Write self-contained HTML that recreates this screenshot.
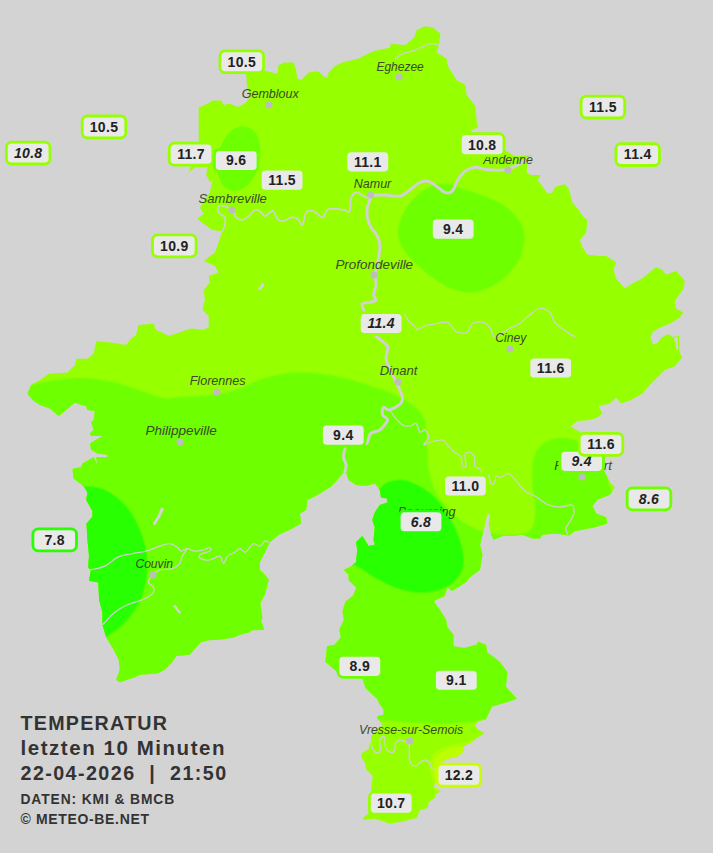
<!DOCTYPE html>
<html><head><meta charset="utf-8"><title>Temperatur</title>
<style>
html,body{margin:0;padding:0;background:#d3d3d3;}
body{width:713px;height:853px;overflow:hidden;position:relative;font-family:"Liberation Sans",sans-serif;}
svg{position:absolute;left:0;top:0;display:block}
.city{font-family:"Liberation Sans",sans-serif;font-style:italic;font-size:13px;fill:#3c4a2a}
.lab{font-family:"Liberation Sans",sans-serif;font-weight:bold;font-size:14px;fill:#222;letter-spacing:0.3px}
.it{font-style:italic}
.cap{position:absolute;left:20.5px;color:#333;font-weight:bold;white-space:nowrap;line-height:1}
.c1{font-size:19px;letter-spacing:1.4px}
.c2{font-size:14px;letter-spacing:0.9px}
</style></head><body>
<svg width="713" height="853" viewBox="0 0 713 853">
<defs><clipPath id="prov"><polygon points="198.7,142.0 198.7,107.4 205.0,104.9 212.5,100.4 221.2,100.4 223.7,104.9 229.9,103.6 237.4,106.9 244.9,103.6 249.9,97.4 246.9,84.9 246.2,73.7 262.4,69.9 277.4,73.7 278.6,64.9 284.8,62.4 293.6,62.4 296.1,69.9 297.3,78.7 301.1,79.9 308.6,72.4 318.5,71.2 323.5,76.2 327.3,77.9 328.5,72.4 334.8,66.2 342.3,62.4 358.0,58.7 373.0,51.2 390.5,47.5 390.5,43.7 405.4,45.0 414.2,37.5 416.7,30.0 425.4,26.2 432.9,27.5 440.4,33.7 439.1,45.0 436.6,52.5 446.6,58.7 447.9,66.2 456.6,79.9 465.3,84.9 466.6,94.9 475.3,106.1 476.6,119.9 477.8,127.4 471.6,129.9 471.0,134.0 500.0,136.0 504.0,150.0 515.7,156.4 532.6,154.7 527.5,160.6 526.7,172.5 530.9,175.0 541.0,175.0 537.6,180.1 547.8,193.6 552.0,192.7 555.4,186.8 564.6,184.3 568.7,188.7 572.4,202.4 578.7,209.9 583.7,217.4 587.4,219.9 586.2,232.4 579.9,239.9 582.4,247.3 587.4,254.8 599.9,256.1 606.1,256.1 616.1,262.3 613.6,269.8 616.1,278.6 624.8,288.6 632.3,283.6 642.3,278.6 656.0,267.3 662.3,269.8 666.0,274.8 676.0,271.1 684.8,281.1 683.5,288.6 674.8,301.0 676.0,308.5 683.4,312.8 679.2,318.1 670.7,323.3 660.2,327.6 652.8,331.8 650.3,337.0 652.8,344.4 657.0,343.4 661.2,338.1 667.6,333.9 672.8,337.0 679.3,335.5 679.5,352.5 682.3,357.4 674.8,366.2 664.8,369.9 657.3,377.4 649.8,384.9 642.3,393.6 631.1,399.9 621.1,403.6 616.1,397.4 609.9,403.6 598.7,406.1 602.1,413.2 597.7,417.6 588.1,420.2 577.5,421.1 570.5,426.4 581.0,432.6 600.0,440.0 602.4,456.1 603.6,469.8 609.9,482.3 614.9,487.3 609.9,494.8 597.4,499.8 592.4,506.0 596.2,513.5 606.1,517.2 607.4,523.5 594.9,527.2 582.4,529.7 574.8,531.1 568.6,536.1 564.9,534.8 554.9,533.6 542.4,534.8 539.9,538.6 532.4,538.6 522.4,534.8 511.2,536.1 502.5,536.1 493.7,539.8 491.2,534.8 488.7,524.8 490.0,514.9 487.5,513.6 485.0,524.8 480.0,544.8 482.5,554.8 480.0,569.8 470.0,577.3 466.0,582.3 452.3,591.1 447.3,587.3 444.8,596.1 433.6,601.1 439.8,609.8 446.1,619.8 447.3,627.3 453.6,634.8 453.5,646.3 464.3,647.9 476.6,644.8 478.2,641.7 485.9,644.8 487.4,652.5 499.8,661.8 507.5,672.6 505.9,686.5 516.7,698.8 507.5,701.9 492.0,706.5 489.0,712.7 485.7,719.6 477.8,721.6 474.9,725.5 477.8,729.5 484.7,733.4 477.8,737.3 471.9,742.2 462.1,747.1 464.1,751.0 458.2,756.0 446.4,758.9 440.5,762.8 438.0,775.0 433.6,786.4 440.5,791.3 435.6,794.2 434.6,798.2 428.7,802.1 427.7,808.0 419.9,810.0 416.9,817.8 409.1,819.8 402.2,821.7 395.3,822.7 389.5,823.7 381.6,820.8 374.7,818.8 363.9,819.8 362.9,817.8 367.9,813.9 369.8,808.0 368.8,804.1 370.8,794.2 371.8,782.5 372.8,776.6 365.9,768.7 364.9,762.8 361.0,756.9 362.0,753.0 368.8,749.1 369.8,743.2 371.8,739.3 370.8,736.3 373.7,733.4 382.6,724.5 376.7,717.7 378.7,715.7 383.6,714.7 383.6,709.8 379.6,703.9 377.0,698.8 365.5,688.0 362.5,678.7 350.1,675.6 337.8,672.6 325.4,661.8 327.0,646.3 334.7,644.8 340.9,637.1 339.3,629.4 343.9,620.1 342.4,610.9 345.5,601.6 353.2,595.4 356.3,587.7 348.6,580.0 348.6,574.8 343.6,569.8 349.8,567.3 356.0,562.3 357.3,549.8 356.0,542.3 362.3,536.1 364.8,539.8 368.5,546.1 374.8,544.8 373.5,539.8 374.8,527.3 372.3,519.9 374.8,512.4 379.8,504.9 387.3,502.4 387.3,498.6 381.0,497.4 379.8,489.9 374.8,483.6 366.0,486.1 356.0,484.9 348.6,479.9 346.1,472.4 343.6,472.4 337.3,479.9 329.8,487.4 317.4,494.9 307.4,499.9 306.1,509.9 299.9,513.6 301.1,523.6 289.9,529.8 278.7,534.8 269.9,542.3 264.9,552.3 259.9,562.3 259.9,569.8 264.9,574.8 268.7,579.8 265.2,594.0 260.3,603.1 262.4,617.9 261.0,620.7 264.5,629.8 251.9,630.2 249.1,632.6 240.7,634.4 233.7,637.5 221.0,639.6 208.4,640.3 201.0,642.3 196.1,647.3 189.8,654.8 176.1,656.0 172.3,662.3 164.8,669.8 157.4,673.5 139.9,674.7 134.9,677.2 119.9,682.2 116.2,679.7 119.9,669.8 118.7,659.8 113.7,649.8 106.2,637.3 102.4,624.8 102.4,612.3 99.1,600.0 98.3,582.5 89.0,580.8 90.7,570.7 88.2,567.3 89.0,555.6 87.3,538.7 86.5,523.6 92.4,516.8 92.4,511.0 86.2,500.0 87.5,492.5 83.7,486.2 73.7,478.7 72.5,470.0 73.7,468.5 81.1,467.3 82.4,463.5 93.6,457.3 97.4,464.8 96.1,457.3 107.4,457.3 107.4,454.8 97.4,453.6 91.1,449.8 89.9,443.6 96.1,439.8 102.4,436.1 91.1,436.1 89.9,433.6 93.6,429.8 91.1,422.3 93.6,419.9 94.9,411.1 87.4,409.9 86.1,406.1 81.1,404.9 74.9,402.4 66.2,409.9 58.7,416.1 49.9,408.6 40.0,404.9 32.5,399.9 27.5,393.6 31.2,384.9 40.0,379.9 48.7,373.7 67.4,372.4 74.9,364.9 76.2,358.7 87.4,358.7 93.6,353.7 96.1,341.2 111.1,342.4 126.1,344.9 131.1,338.7 136.1,335.0 138.6,325.0 153.5,323.7 156.0,330.0 162.3,332.5 168.7,336.0 191.2,328.5 203.7,329.8 208.7,327.3 208.7,316.1 202.4,309.8 204.9,299.8 203.7,289.9 209.9,282.4 208.7,276.1 218.6,272.4 214.9,266.1 203.7,261.1 214.9,252.4 218.6,242.4 222.4,231.2 212.4,229.9 203.7,223.7 197.4,218.7 203.7,213.7 199.9,207.5 209.9,192.5 212.4,180.0 210.0,182.3 206.2,174.8 207.5,167.3 195.0,167.3 188.7,172.3 192.0,164.0"/></clipPath></defs>
<g clip-path="url(#prov)">
<rect width="713" height="853" fill="#96ff00"/>
<path d="M0.0,390.0C5.2,334.3 23.3,386.4 31.2,384.9C39.1,383.4 40.5,382.2 47.4,381.1C54.3,380.0 64.9,378.6 72.4,378.2C79.9,377.8 85.3,378.0 92.4,378.7C99.5,379.4 107.7,380.8 114.8,382.4C121.9,384.0 128.6,386.5 134.8,388.6C141.1,390.7 146.9,393.2 152.3,394.9C157.7,396.6 162.7,398.2 167.3,398.6C171.9,399.0 173.3,397.5 179.8,397.0C186.3,396.5 199.5,396.2 206.5,395.6C213.5,395.0 217.2,394.4 222.0,393.5C226.8,392.6 231.1,391.6 235.6,390.1C240.1,388.6 244.7,386.3 249.0,384.5C253.3,382.7 255.5,381.0 261.2,379.2C266.9,377.4 276.5,374.8 283.0,373.7C289.5,372.6 294.5,372.7 300.0,372.6C305.5,372.5 309.0,372.4 315.9,373.2C322.8,374.0 332.9,375.5 341.4,377.4C349.9,379.3 359.0,382.2 366.9,384.6C374.8,387.0 382.1,389.1 388.8,391.9C395.5,394.6 402.0,398.0 407.0,401.1C412.0,404.2 416.1,407.4 419.0,410.5C421.9,413.6 423.3,416.6 424.5,420.0C425.7,423.4 425.7,426.0 426.2,431.0C426.7,436.0 427.0,443.3 427.4,449.8C427.8,456.3 427.4,463.1 428.7,469.8C429.9,476.5 432.2,484.0 434.9,489.8C437.6,495.6 440.7,499.7 444.9,504.7C449.1,509.7 454.5,515.5 459.9,519.7C465.3,523.9 472.3,527.5 477.3,529.7C482.3,531.9 484.4,532.0 489.8,533.0C495.2,534.0 504.1,535.5 510.0,535.5C515.9,535.5 521.2,534.6 525.0,533.0C528.8,531.4 531.3,530.3 533.0,526.0C534.7,521.7 535.4,513.3 535.3,507.0C535.2,500.7 533.0,495.3 532.6,488.0C532.2,480.7 532.0,469.0 532.6,463.0C533.2,457.0 534.5,455.0 536.0,452.0C537.5,449.0 539.2,447.1 541.5,445.2C543.8,443.2 546.6,441.5 549.5,440.3C552.4,439.1 555.9,438.2 559.0,437.8C562.1,437.4 565.2,437.7 568.0,438.2C570.8,438.7 573.0,439.3 576.0,440.6C579.0,441.9 582.5,444.1 586.0,446.0C589.5,447.9 593.8,449.7 597.0,452.0C600.2,454.3 603.1,457.0 605.0,460.0C606.9,463.0 607.8,465.8 608.5,470.0C609.2,474.2 606.2,480.0 609.0,485.0C611.8,490.0 609.8,494.2 625.0,500.0C640.2,505.8 687.5,484.0 700.0,520.0C712.5,556.0 730.0,683.3 700.0,716.0C670.0,748.7 556.2,715.4 520.0,716.0C483.8,716.6 491.1,718.5 482.8,719.5C474.5,720.5 478.6,721.2 470.4,721.9C462.2,722.6 448.6,723.8 433.4,723.5C418.2,723.2 398.3,721.1 379.4,720.4C360.5,719.6 383.2,719.2 320.0,719.0C256.8,718.8 53.3,773.8 0.0,719.0C-53.3,664.2 -5.2,445.7 0.0,390.0Z" fill="#6eff00" stroke="#82ff00" stroke-width="1.6"/>
<path d="M83.7,486.2C86.0,486.4 93.0,486.4 97.4,487.5C101.8,488.6 105.7,490.0 109.9,492.5C114.1,495.0 118.7,498.8 122.4,502.5C126.2,506.2 129.5,510.3 132.4,514.9C135.3,519.5 137.8,524.9 139.9,529.9C142.0,534.9 143.7,539.5 144.9,544.9C146.2,550.3 147.2,556.6 147.4,562.4C147.6,568.2 146.9,574.5 146.1,579.9C145.3,585.3 144.3,589.8 142.4,594.8C140.5,599.8 138.2,604.8 134.9,609.8C131.6,614.8 127.2,620.2 122.4,624.8C117.6,629.4 108.9,635.2 106.2,637.3L60,640L60,486Z" fill="#28ff00" stroke="#4bff00" stroke-width="1.2"/>
<path d="M378.7,490.0C380.1,488.8 383.4,484.2 387.4,482.5C391.3,480.8 397.4,479.6 402.4,480.0C407.4,480.4 412.4,482.5 417.4,485.0C422.4,487.5 427.7,490.9 432.3,495.0C436.9,499.1 441.1,504.5 444.8,509.9C448.6,515.3 452.1,521.6 454.8,527.4C457.5,533.2 459.6,539.1 461.1,544.9C462.6,550.7 463.8,557.4 463.6,562.4C463.4,567.4 462.1,571.1 459.8,574.9C457.5,578.6 454.0,582.2 449.8,584.9C445.6,587.6 440.6,589.9 434.8,591.1C429.0,592.3 421.5,592.9 414.9,592.3C408.2,591.7 401.6,589.8 394.9,587.3C388.2,584.8 380.7,580.7 374.9,577.4C369.1,574.1 362.5,569.1 360.0,567.4L340,560L340,492Z" fill="#28ff00" stroke="#4bff00" stroke-width="1.2"/>
<path d="M444.9,183.7C450.9,183.7 455.8,186.6 462.4,188.7C469.0,190.8 477.7,193.3 484.8,196.2C491.9,199.1 499.2,202.2 504.8,206.2C510.4,210.1 515.2,214.9 518.5,219.9C521.8,224.9 523.9,230.3 524.3,236.1C524.7,241.9 523.4,248.9 521.0,254.9C518.6,260.9 514.6,267.1 509.8,272.3C505.0,277.5 498.5,282.8 492.3,286.1C486.1,289.4 478.6,291.7 472.4,292.3C466.2,292.9 460.7,291.7 454.9,289.8C449.1,287.9 443.6,285.3 437.4,281.1C431.1,276.9 423.2,270.4 417.4,264.8C411.6,259.2 405.7,252.8 402.5,247.4C399.3,242.0 398.0,237.8 398.0,232.4C398.0,227.0 400.1,220.3 402.5,214.9C404.9,209.5 408.6,204.3 412.5,199.9C416.4,195.5 420.8,191.4 426.2,188.7C431.6,186.0 438.9,183.7 444.9,183.7Z" fill="#6eff00" stroke="#82ff00" stroke-width="1.2"/>
<ellipse cx="238.7" cy="158.6" rx="21" ry="33" transform="rotate(13 238.7 158.6)" fill="#6eff00"/>
<path d="M438.5,792.3C430.9,789.7 435.9,787.3 434.6,784.4C433.3,781.5 431.4,778.9 430.7,774.6C430.0,770.4 429.9,762.7 430.7,758.9C431.5,755.1 433.3,754.0 435.6,752.0C437.9,750.0 441.3,748.4 444.4,747.1C447.5,745.8 450.9,745.0 454.2,744.2C457.5,743.4 459.8,742.9 464.1,742.2C468.4,741.5 474.0,737.0 480.0,740.0C486.0,743.0 500.0,750.0 500.0,760.0C500.0,770.0 490.2,794.6 480.0,800.0C469.8,805.4 446.1,794.9 438.5,792.3Z" fill="#aaff00"/>
<path d="M437.0,790.0C431.3,787.9 436.2,785.7 435.6,782.5C435.0,779.3 433.9,774.0 433.6,770.7C433.3,767.4 433.3,765.1 433.6,762.8C433.9,760.5 434.1,758.7 435.6,756.9C437.1,755.1 439.7,753.5 442.5,752.0C445.3,750.5 449.0,748.9 452.3,748.1C455.6,747.3 458.3,747.5 462.1,747.1C465.9,746.8 470.4,743.9 475.0,746.0C479.6,748.1 490.8,751.8 490.0,760.0C489.2,768.2 478.8,790.0 470.0,795.0C461.2,800.0 442.7,792.1 437.0,790.0Z" fill="#beff00"/>
<polygon points="161.1,507.5 164.3,508.7 159.9,517.4 154.9,525.4 152.4,523.7 157.4,516.2" fill="#d3d3d3"/>
<polygon points="172.8,606.1 175.3,604.8 181.1,612.8 179.3,614.1" fill="#d3d3d3"/>
<polygon points="262.3,282.5 265.0,285.0 260.0,290.5 257.5,289.5 260.5,286.0" fill="#d3d3d3"/>
<polygon points="673.5,337.7 677.7,336.6 678.3,349.7 676.6,350.1 675.4,343.4" fill="#d3d3d3"/>
<path d="M370.5,195.5C372.9,195.4 380.0,194.8 384.9,194.9C389.8,195.0 395.6,197.0 399.8,196.2C404.0,195.4 406.5,192.2 409.8,189.9C413.1,187.6 416.9,183.9 419.8,182.5C422.7,181.1 424.8,180.8 427.3,181.2C429.8,181.6 431.9,183.0 434.8,184.9C437.7,186.8 441.9,191.4 444.8,192.4C447.7,193.4 450.1,193.3 452.3,191.2C454.5,189.1 455.7,183.2 457.9,179.8C460.1,176.4 462.4,173.1 465.3,171.0C468.2,168.9 471.6,167.5 475.3,167.3C479.1,167.1 482.8,169.4 487.8,169.8C492.8,170.2 500.3,170.6 505.3,169.8C510.3,169.0 513.6,166.9 517.8,164.8C521.9,162.7 528.1,158.6 530.2,157.3" fill="none" stroke="#d2cfd5" stroke-width="3" stroke-linecap="round" stroke-linejoin="round"/>
<path d="M371.1,197.0C370.5,198.7 368.0,204.0 367.4,207.4C366.8,210.8 366.8,214.1 367.4,217.4C368.0,220.7 369.4,224.3 371.1,227.4C372.8,230.5 375.9,233.2 377.4,236.1C378.9,239.0 379.7,241.4 379.9,244.9C380.1,248.4 379.2,253.2 378.6,257.4C378.0,261.6 376.7,267.0 376.1,269.9C375.5,272.8 374.9,272.4 374.9,274.9C374.9,277.4 376.3,281.5 376.1,284.8C375.9,288.1 373.6,292.3 373.6,294.8C373.6,297.3 376.7,298.6 376.1,299.8C375.5,301.1 372.2,301.7 369.9,302.3C367.6,302.9 363.4,302.4 362.4,303.6C361.3,304.9 362.7,307.1 363.6,309.8C364.5,312.5 365.9,315.6 368.0,320.0C370.1,324.4 372.9,331.6 376.1,336.0C379.4,340.4 385.8,342.2 387.5,346.2C389.2,350.2 384.9,354.4 386.2,360.0C387.4,365.6 392.3,373.2 395.0,379.9C397.7,386.5 403.3,394.9 402.5,399.9C401.7,404.9 393.1,408.6 390.0,409.9C386.9,411.1 384.9,406.6 383.7,407.4C382.4,408.2 381.9,412.8 382.5,414.9C383.1,417.0 387.9,417.4 387.5,419.9C387.1,422.4 382.5,427.8 380.0,429.9C377.5,432.0 374.2,431.4 372.5,432.3C370.8,433.2 370.9,433.1 369.8,435.0C368.7,436.9 368.3,442.9 366.0,443.7C363.7,444.5 359.2,440.3 356.0,440.0C352.8,439.7 348.9,440.6 347.0,442.0C345.1,443.4 345.4,446.1 344.8,448.7C344.2,451.3 343.4,454.7 343.6,457.4C343.8,460.1 345.9,462.4 346.1,464.9C346.3,467.4 345.0,471.1 344.8,472.4" fill="none" stroke="#d2cfd5" stroke-width="3" stroke-linecap="round" stroke-linejoin="round"/>
<path d="M222.4,231.2C222.8,230.1 224.5,227.2 224.9,224.9C225.3,222.6 226.0,219.5 224.9,217.4C223.8,215.3 219.7,214.4 218.6,212.5C217.5,210.6 217.5,207.2 218.6,206.2C219.7,205.1 222.6,205.6 224.9,206.2C227.2,206.8 230.5,208.1 232.4,210.0C234.3,211.9 234.4,215.8 236.1,217.4C237.8,219.1 240.3,220.1 242.4,219.9C244.5,219.7 246.5,217.8 248.6,216.2C250.7,214.5 252.9,210.8 254.8,210.0C256.7,209.2 258.1,210.2 259.8,211.2C261.5,212.2 263.1,216.0 264.8,216.2C266.5,216.4 268.3,213.3 269.8,212.5C271.3,211.7 272.4,210.2 273.6,211.2C274.9,212.2 275.9,217.0 277.3,218.7C278.8,220.4 279.8,221.4 282.3,221.2C284.8,221.0 289.8,217.8 292.3,217.4C294.8,217.0 295.8,217.4 297.5,218.7C299.2,219.9 301.1,225.9 302.5,224.9C303.9,223.9 304.3,214.7 306.2,212.4C308.1,210.1 311.0,210.4 313.7,211.2C316.4,212.0 320.2,217.6 322.5,217.4C324.8,217.2 325.3,211.4 327.4,209.9C329.5,208.4 332.2,208.7 334.9,208.7C337.6,208.7 341.2,209.5 343.7,209.9C346.2,210.3 348.6,213.3 349.9,211.2C351.1,209.1 349.9,200.5 351.2,197.4C352.4,194.3 355.3,192.6 357.4,192.4C359.5,192.2 361.3,195.1 363.6,196.2C365.9,197.2 369.9,198.3 371.1,198.7" fill="none" stroke="#d3d0d5" stroke-width="1.7" stroke-linecap="round" stroke-linejoin="round"/>
<path d="M395.4,58.7C396.6,57.9 399.6,55.2 402.9,53.7C406.2,52.2 410.8,51.7 415.4,50.0C420.0,48.3 426.4,44.5 430.4,43.7C434.3,42.9 437.7,44.8 439.1,45.0" fill="none" stroke="#d3d0d5" stroke-width="1.25" stroke-linecap="round" stroke-linejoin="round"/>
<path d="M404.8,314.8C405.6,316.1 408.1,320.4 409.8,322.3C411.5,324.2 413.6,324.8 414.8,326.0C416.1,327.2 415.6,329.8 417.3,329.8C419.0,329.8 421.5,327.1 424.8,326.0C428.1,324.9 433.6,324.1 437.3,323.5C441.1,322.9 444.8,321.7 447.3,322.3C449.8,322.9 450.6,325.7 452.3,327.3C454.0,328.9 454.9,331.4 457.4,332.2C459.9,333.0 464.9,333.6 467.4,332.2C469.9,330.8 469.9,325.2 472.4,323.5C474.9,321.8 479.4,321.6 482.3,322.2C485.2,322.8 487.7,324.7 489.8,327.2C491.9,329.7 491.9,336.8 494.8,337.2C497.7,337.6 503.1,332.0 507.3,329.7C511.5,327.4 516.0,326.0 519.8,323.5C523.5,321.0 526.5,317.3 529.8,314.8C533.1,312.3 536.5,308.9 539.8,308.5C543.1,308.1 547.2,310.0 549.7,312.3C552.2,314.6 552.8,319.6 554.7,322.2C556.6,324.8 557.6,325.5 561.0,328.0C564.4,330.5 572.7,335.5 575.0,337.0" fill="none" stroke="#d3d0d5" stroke-width="1.25" stroke-linecap="round" stroke-linejoin="round"/>
<path d="M390.0,409.9C390.8,411.1 392.9,414.9 395.0,417.4C397.1,419.9 400.0,423.4 402.5,424.9C405.0,426.3 407.6,426.3 409.9,426.1C412.2,425.9 414.5,422.6 416.2,423.6C417.9,424.6 418.4,431.2 419.9,432.3C421.3,433.4 423.4,429.1 424.9,429.9C426.4,430.7 428.9,434.8 428.7,437.3C428.5,439.8 423.5,444.0 423.7,444.8C423.9,445.6 426.8,443.1 429.9,442.3C433.0,441.5 439.5,439.4 442.4,439.8C445.3,440.2 445.3,442.7 447.4,444.8C449.5,446.9 452.6,450.2 454.9,452.3C457.2,454.4 459.9,455.0 461.1,457.3C462.4,459.6 461.6,464.6 462.4,466.0C463.2,467.4 465.7,467.9 466.1,466.0C466.5,464.1 464.3,457.1 464.9,454.8C465.5,452.5 468.2,451.9 469.9,452.3C471.5,452.7 474.0,455.0 474.8,457.3C475.6,459.6 473.8,463.9 474.8,466.0C475.9,468.1 480.1,468.6 481.1,469.8C482.2,471.1 481.1,472.9 481.1,473.5" fill="none" stroke="#d3d0d5" stroke-width="1.25" stroke-linecap="round" stroke-linejoin="round"/>
<path d="M488.6,474.8C489.0,476.2 490.1,482.2 491.1,483.5C492.1,484.8 494.0,483.6 494.8,482.3C495.6,481.1 495.1,476.8 496.1,476.0C497.2,475.2 499.0,477.7 501.1,477.3C503.2,476.9 505.8,472.7 508.5,473.5C511.2,474.3 514.6,479.4 517.3,482.3C520.0,485.2 521.9,488.7 524.8,491.0C527.7,493.3 530.9,493.7 534.8,496.0C538.7,498.3 543.8,502.9 548.0,504.7C552.2,506.5 556.0,506.9 560.0,507.0C564.0,507.1 569.7,504.2 572.0,505.0C574.3,505.8 574.2,509.5 574.0,512.0C573.8,514.5 572.3,517.3 571.0,520.0C569.7,522.7 566.5,525.5 566.0,528.0C565.5,530.5 567.7,533.8 568.0,535.0" fill="none" stroke="#d3d0d5" stroke-width="1.25" stroke-linecap="round" stroke-linejoin="round"/>
<path d="M90.0,569.9C92.5,569.3 100.3,568.2 104.9,566.1C109.5,564.0 112.8,559.5 117.4,557.4C122.0,555.3 127.6,554.6 132.4,553.6C137.2,552.6 141.5,552.3 146.1,551.1C150.7,549.9 155.9,547.4 159.9,546.2C163.9,545.0 166.9,543.5 169.8,543.7C172.7,543.9 175.4,546.2 177.3,547.4C179.2,548.6 179.4,550.9 181.1,551.1C182.8,551.3 185.0,548.7 187.3,548.7C189.6,548.7 192.1,550.9 194.8,551.1C197.5,551.3 201.0,550.5 203.5,549.9C206.0,549.3 208.8,547.2 209.8,547.4C210.9,547.6 211.5,549.9 209.8,551.1C208.1,552.4 201.3,553.6 199.8,554.9C198.3,556.1 199.3,557.8 201.0,558.6C202.7,559.4 206.7,560.3 209.8,559.9C212.9,559.5 217.5,555.5 219.8,556.1C222.1,556.7 222.4,563.5 223.7,563.5C225.0,563.5 225.6,558.0 227.5,556.1C229.4,554.2 232.9,553.5 235.0,552.3C237.1,551.0 238.3,548.6 240.0,548.6C241.7,548.6 243.3,552.5 245.0,552.3C246.7,552.1 248.6,548.8 250.0,547.3C251.4,545.8 252.0,543.8 253.7,543.6C255.3,543.4 258.0,546.5 259.9,546.1C261.8,545.7 263.4,541.7 264.9,541.1C266.4,540.5 268.1,542.1 268.7,542.3" fill="none" stroke="#d3d0d5" stroke-width="1.25" stroke-linecap="round" stroke-linejoin="round"/>
<path d="M102.4,624.8C104.5,622.7 110.7,615.6 114.9,612.3C119.1,609.0 122.8,606.9 127.4,604.8C132.0,602.7 138.2,601.7 142.4,599.8C146.6,597.9 150.5,595.7 152.4,593.6C154.3,591.5 154.2,589.3 153.6,587.4C153.0,585.5 148.8,584.5 148.6,582.4C148.4,580.3 150.5,577.0 152.4,574.9C154.3,572.8 156.6,570.9 159.9,569.9C163.2,568.9 169.0,569.6 172.3,568.6C175.6,567.6 178.1,565.7 179.8,563.6C181.5,561.5 181.1,558.6 182.3,556.1C183.6,553.6 186.5,549.9 187.3,548.7" fill="none" stroke="#d3d0d5" stroke-width="1.25" stroke-linecap="round" stroke-linejoin="round"/>
<path d="M370.8,741.2C371.1,742.5 371.7,747.1 372.8,749.1C373.9,751.1 376.4,753.0 377.7,753.0C379.0,753.0 380.3,751.1 380.6,749.1C380.9,747.1 379.4,743.2 379.6,741.2C379.8,739.2 380.8,737.9 381.6,737.3C382.4,736.6 383.9,735.7 384.5,737.3C385.1,738.9 384.7,744.6 385.5,747.1C386.3,749.6 388.0,751.4 389.5,752.0C391.0,752.6 393.4,752.3 394.4,751.0C395.4,749.7 394.6,746.0 395.3,744.2C396.0,742.4 396.8,740.8 398.3,740.3C399.8,739.8 402.4,740.4 404.2,741.2C406.0,742.0 408.3,742.6 409.1,745.2C409.9,747.8 408.8,753.8 409.1,756.9C409.4,760.0 410.0,762.3 411.1,763.8C412.2,765.3 414.4,766.1 416.0,765.8C417.6,765.5 419.3,762.9 420.9,761.9C422.5,760.9 424.3,759.8 425.8,759.9C427.3,760.0 428.7,761.3 429.7,762.8C430.7,764.3 430.7,767.6 431.7,768.7C432.7,769.9 435.0,769.5 435.6,769.7" fill="none" stroke="#d3d0d5" stroke-width="1.25" stroke-linecap="round" stroke-linejoin="round"/>
</g>
<circle cx="269" cy="105" r="3.6" fill="#bdbdbd"/>
<circle cx="399" cy="77" r="3.6" fill="#bdbdbd"/>
<circle cx="232" cy="210" r="3.6" fill="#bdbdbd"/>
<circle cx="370.5" cy="195" r="3.6" fill="#bdbdbd"/>
<circle cx="508" cy="170" r="3.6" fill="#bdbdbd"/>
<circle cx="374" cy="275" r="3.6" fill="#bdbdbd"/>
<circle cx="510" cy="349" r="3.6" fill="#bdbdbd"/>
<circle cx="398" cy="382" r="3.6" fill="#bdbdbd"/>
<circle cx="217" cy="392" r="3.6" fill="#bdbdbd"/>
<circle cx="180" cy="442" r="3.6" fill="#bdbdbd"/>
<circle cx="153" cy="575" r="3.6" fill="#bdbdbd"/>
<circle cx="582" cy="477" r="3.6" fill="#bdbdbd"/>
<circle cx="409.7" cy="740.8" r="3.6" fill="#bdbdbd"/>
<text x="241.7" y="98" class="city" textLength="57.1" lengthAdjust="spacingAndGlyphs">Gembloux</text>
<text x="376.5" y="71" class="city" textLength="47.2" lengthAdjust="spacingAndGlyphs">Eghezee</text>
<text x="198.5" y="203" class="city" textLength="68.4" lengthAdjust="spacingAndGlyphs">Sambreville</text>
<text x="353.7" y="188" class="city" textLength="37.6" lengthAdjust="spacingAndGlyphs">Namur</text>
<text x="483.3" y="163.6" class="city" textLength="49.6" lengthAdjust="spacingAndGlyphs">Andenne</text>
<text x="335.4" y="269" class="city" textLength="77.7" lengthAdjust="spacingAndGlyphs">Profondeville</text>
<text x="495.3" y="342" class="city" textLength="31" lengthAdjust="spacingAndGlyphs">Ciney</text>
<text x="379.7" y="375" class="city" textLength="37.7" lengthAdjust="spacingAndGlyphs">Dinant</text>
<text x="189.7" y="385" class="city" textLength="55.9" lengthAdjust="spacingAndGlyphs">Florennes</text>
<text x="145.5" y="435.2" class="city" textLength="71.3" lengthAdjust="spacingAndGlyphs">Philippeville</text>
<text x="135.4" y="568" class="city" textLength="37.7" lengthAdjust="spacingAndGlyphs">Couvin</text>
<text x="397.9" y="516" class="city" textLength="57.7" lengthAdjust="spacingAndGlyphs">Beauraing</text>
<text x="554.2" y="470" class="city" textLength="57.7" lengthAdjust="spacingAndGlyphs">Rochefort</text>
<text x="358.9" y="734.3" class="city" textLength="104.3" lengthAdjust="spacingAndGlyphs">Vresse-sur-Semois</text>
<rect x="220.0" y="50.8" width="43.6" height="21.9" rx="5.2" fill="#e9e9e9" stroke="#96ff00" stroke-width="2.8"/>
<text x="241.8" y="66.7" class="lab" text-anchor="middle">10.5</text>
<rect x="82.2" y="116.0" width="43.6" height="21.9" rx="5.2" fill="#e9e9e9" stroke="#96ff00" stroke-width="2.8"/>
<text x="104" y="131.9" class="lab" text-anchor="middle">10.5</text>
<rect x="6.4" y="142.1" width="43.6" height="21.9" rx="5.2" fill="#e9e9e9" stroke="#96ff00" stroke-width="2.8"/>
<text x="28.2" y="157.9" class="lab it" text-anchor="middle">10.8</text>
<rect x="169.2" y="143.2" width="43.6" height="21.9" rx="5.2" fill="#e9e9e9" stroke="#96ff00" stroke-width="2.8"/>
<text x="191" y="159.1" class="lab" text-anchor="middle">11.7</text>
<rect x="214.4" y="149.5" width="43.6" height="21.9" rx="5.2" fill="#e9e9e9" stroke="#6eff00" stroke-width="2.8"/>
<text x="236.2" y="165.3" class="lab" text-anchor="middle">9.6</text>
<rect x="260.3" y="169.2" width="43.6" height="21.9" rx="5.2" fill="#e9e9e9" stroke="#96ff00" stroke-width="2.8"/>
<text x="282.1" y="185.1" class="lab" text-anchor="middle">11.5</text>
<rect x="346.0" y="150.9" width="43.6" height="21.9" rx="5.2" fill="#e9e9e9" stroke="#96ff00" stroke-width="2.8"/>
<text x="367.8" y="166.7" class="lab" text-anchor="middle">11.1</text>
<rect x="460.4" y="133.7" width="43.6" height="21.9" rx="5.2" fill="#e9e9e9" stroke="#96ff00" stroke-width="2.8"/>
<text x="482.2" y="149.5" class="lab" text-anchor="middle">10.8</text>
<rect x="581.1" y="96.1" width="43.6" height="21.9" rx="5.2" fill="#e9e9e9" stroke="#96ff00" stroke-width="2.8"/>
<text x="602.9" y="112.0" class="lab" text-anchor="middle">11.5</text>
<rect x="615.9" y="143.6" width="43.6" height="21.9" rx="5.2" fill="#e9e9e9" stroke="#96ff00" stroke-width="2.8"/>
<text x="637.7" y="159.4" class="lab" text-anchor="middle">11.4</text>
<rect x="152.5" y="234.9" width="43.6" height="21.9" rx="5.2" fill="#e9e9e9" stroke="#96ff00" stroke-width="2.8"/>
<text x="174.3" y="250.7" class="lab" text-anchor="middle">10.9</text>
<rect x="431.4" y="218.2" width="43.6" height="21.9" rx="5.2" fill="#e9e9e9" stroke="#6eff00" stroke-width="2.8"/>
<text x="453.2" y="234.0" class="lab" text-anchor="middle">9.4</text>
<rect x="359.3" y="312.6" width="43.6" height="21.9" rx="5.2" fill="#e9e9e9" stroke="#96ff00" stroke-width="2.8"/>
<text x="381.1" y="328.4" class="lab it" text-anchor="middle">11.4</text>
<rect x="528.9" y="357.1" width="43.6" height="21.9" rx="5.2" fill="#e9e9e9" stroke="#96ff00" stroke-width="2.8"/>
<text x="550.7" y="372.9" class="lab" text-anchor="middle">11.6</text>
<rect x="321.5" y="424.2" width="43.6" height="21.9" rx="5.2" fill="#e9e9e9" stroke="#6eff00" stroke-width="2.8"/>
<text x="343.3" y="440.0" class="lab" text-anchor="middle">9.4</text>
<rect x="559.8" y="450.4" width="43.6" height="21.9" rx="5.2" fill="#e9e9e9" stroke="#6eff00" stroke-width="2.8"/>
<text x="581.6" y="466.2" class="lab it" text-anchor="middle">9.4</text>
<rect x="579.2" y="433.4" width="43.6" height="21.9" rx="5.2" fill="#e9e9e9" stroke="#96ff00" stroke-width="2.8"/>
<text x="601" y="449.2" class="lab" text-anchor="middle">11.6</text>
<rect x="443.6" y="475.1" width="43.6" height="21.9" rx="5.2" fill="#e9e9e9" stroke="#96ff00" stroke-width="2.8"/>
<text x="465.4" y="490.9" class="lab" text-anchor="middle">11.0</text>
<rect x="627.2" y="487.9" width="43.6" height="21.9" rx="5.2" fill="#e9e9e9" stroke="#6eff00" stroke-width="2.8"/>
<text x="649" y="503.8" class="lab it" text-anchor="middle">8.6</text>
<rect x="399.2" y="510.8" width="43.6" height="21.9" rx="5.2" fill="#e9e9e9" stroke="#28ff00" stroke-width="2.8"/>
<text x="421" y="526.7" class="lab it" text-anchor="middle">6.8</text>
<rect x="32.9" y="528.9" width="43.6" height="21.9" rx="5.2" fill="#e9e9e9" stroke="#28ff00" stroke-width="2.8"/>
<text x="54.7" y="544.8" class="lab" text-anchor="middle">7.8</text>
<rect x="338.0" y="655.4" width="43.6" height="21.9" rx="5.2" fill="#e9e9e9" stroke="#6eff00" stroke-width="2.8"/>
<text x="359.8" y="671.3" class="lab" text-anchor="middle">8.9</text>
<rect x="434.5" y="669.3" width="43.6" height="21.9" rx="5.2" fill="#e9e9e9" stroke="#6eff00" stroke-width="2.8"/>
<text x="456.3" y="685.2" class="lab" text-anchor="middle">9.1</text>
<rect x="437.1" y="764.2" width="43.6" height="21.9" rx="5.2" fill="#e9e9e9" stroke="#c8ff00" stroke-width="2.8"/>
<text x="458.9" y="780.1" class="lab" text-anchor="middle">12.2</text>
<rect x="369.4" y="792.2" width="43.6" height="21.9" rx="5.2" fill="#e9e9e9" stroke="#96ff00" stroke-width="2.8"/>
<text x="391.2" y="808.1" class="lab" text-anchor="middle">10.7</text>
</svg>
<div class="cap" style="top:713.5px;font-size:19.7px;letter-spacing:1.25px">TEMPERATUR</div>
<div class="cap" style="top:737.8px;font-size:20.5px;letter-spacing:1.55px">letzten 10 Minuten</div>
<div class="cap" style="top:763.5px;font-size:19.7px;letter-spacing:1.43px">22-04-2026 &nbsp;|&nbsp; 21:50</div>
<div class="cap" style="top:792.5px;font-size:13.8px;letter-spacing:0.9px">DATEN: KMI &amp; BMCB</div>
<div class="cap" style="top:811.5px;font-size:14px;letter-spacing:0.65px">© METEO-BE.NET</div>
</body></html>
